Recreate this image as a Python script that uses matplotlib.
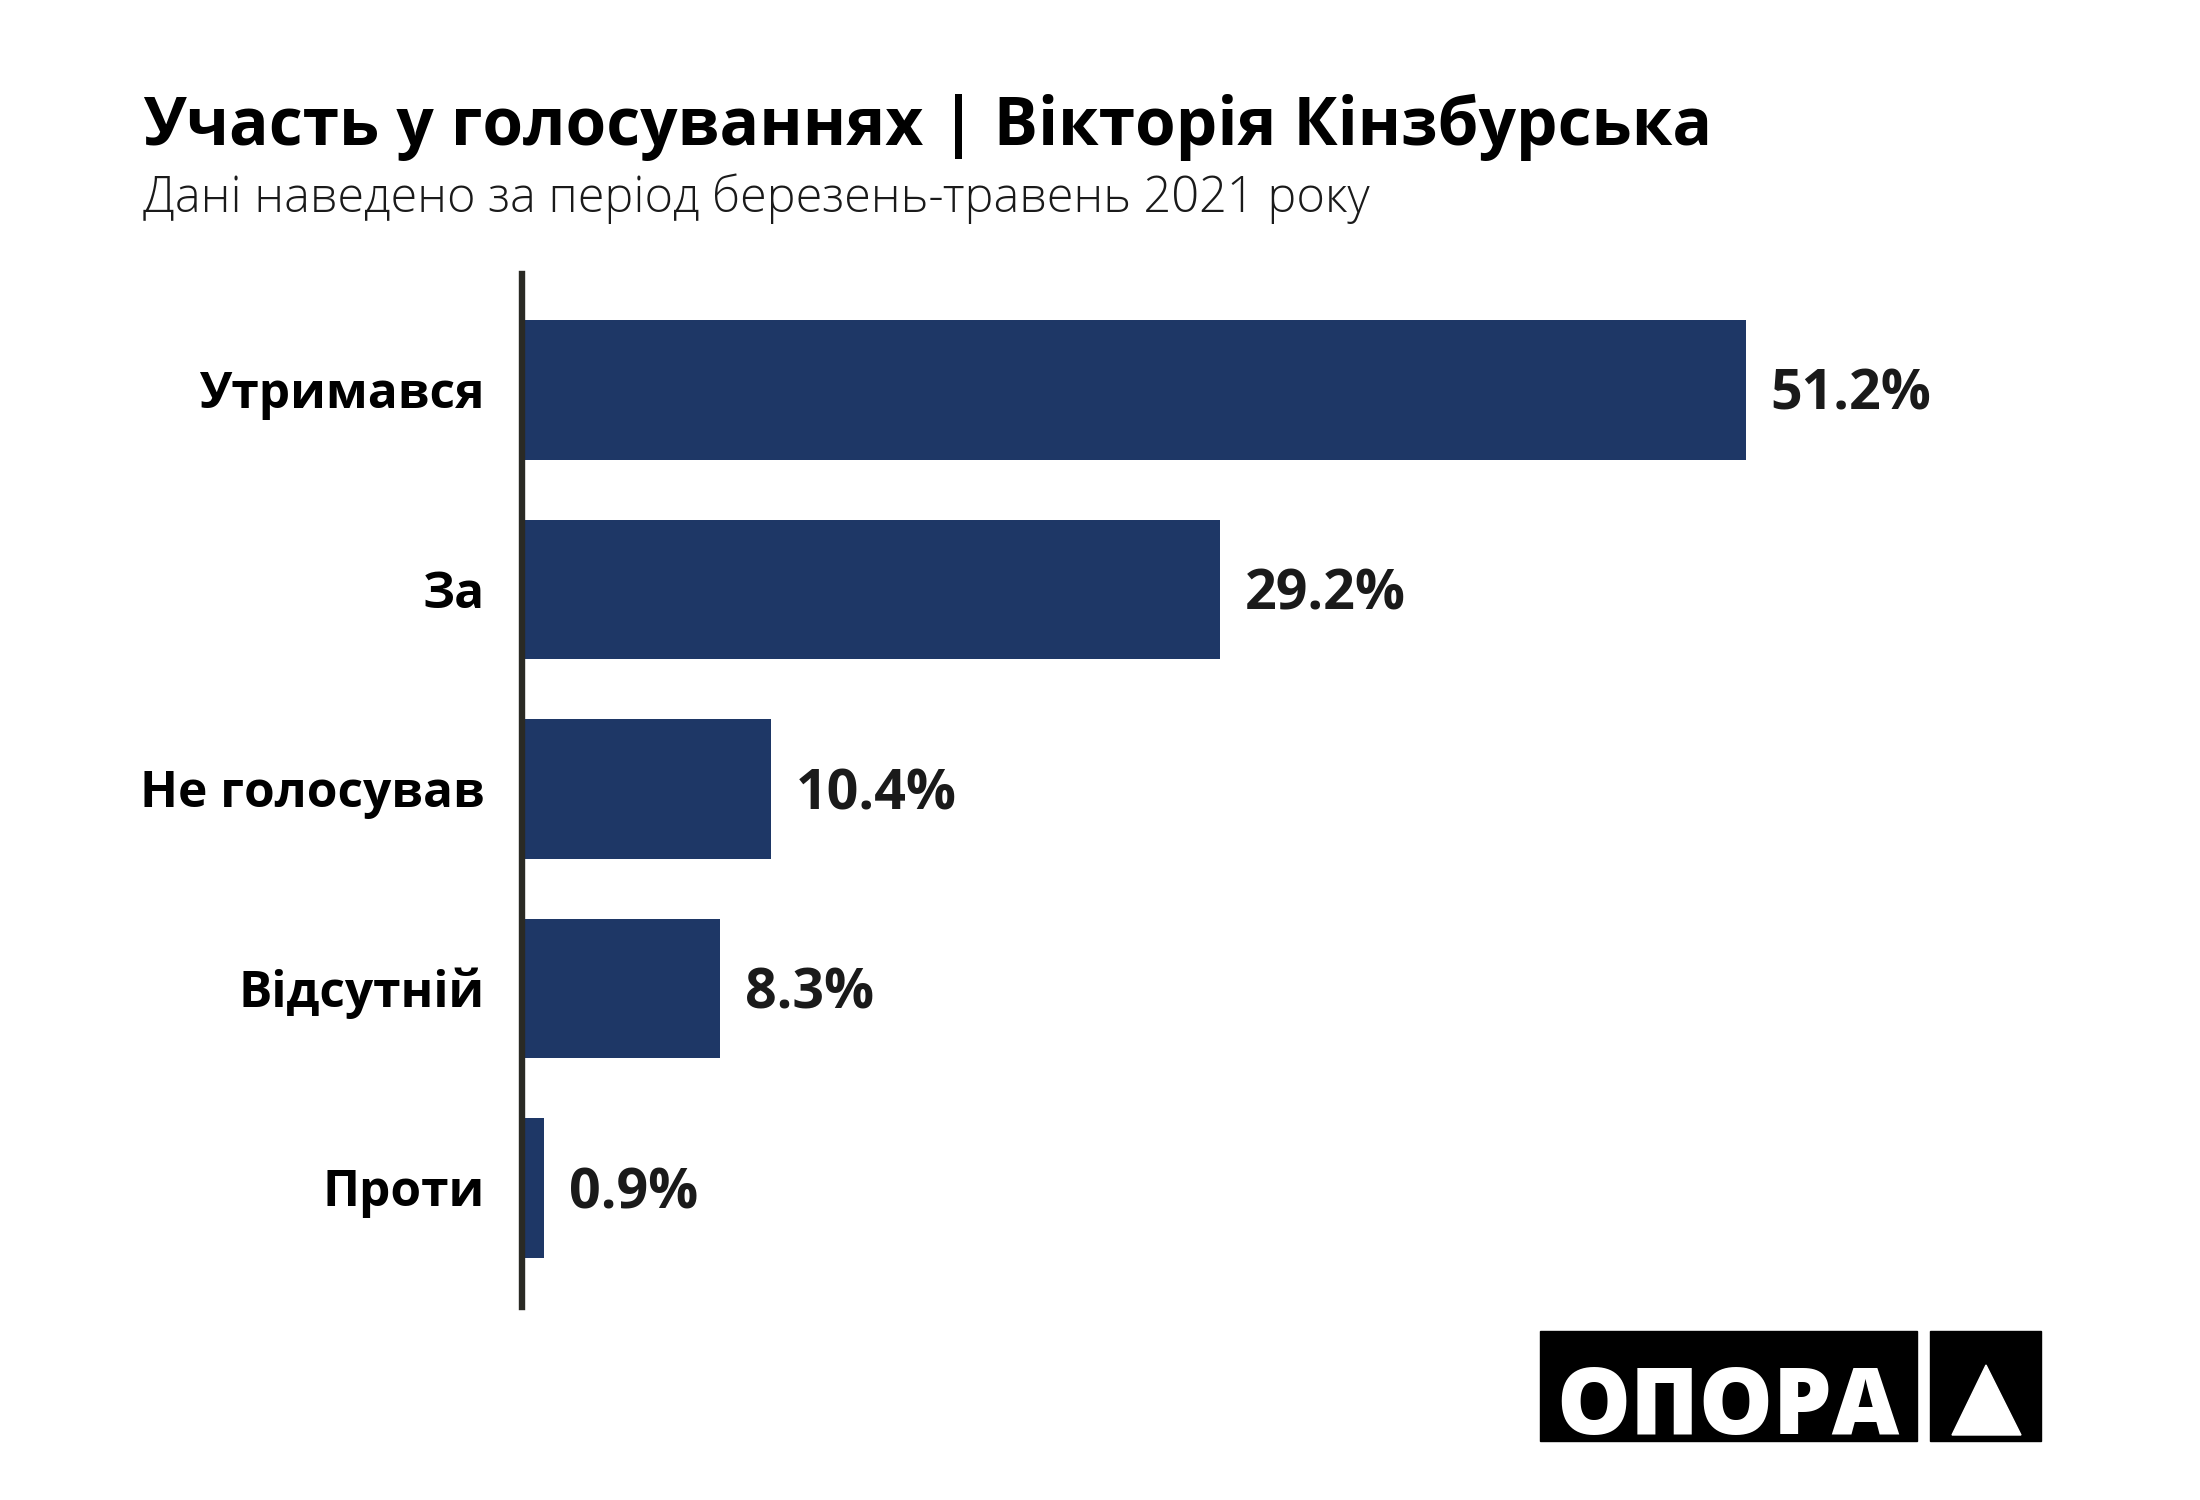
import matplotlib
matplotlib.use("Agg")
import matplotlib.pyplot as plt
from matplotlib.patches import Rectangle, Polygon

categories = ["Утримався", "За", "Не голосував", "Відсутній", "Проти"]
values = [51.2, 29.2, 10.4, 8.3, 0.9]
value_labels = ["51.2%", "29.2%", "10.4%", "8.3%", "0.9%"]

title = "Участь у голосуваннях | Вікторія Кінзбурська"
subtitle = "Дані наведено за період березень-травень 2021 року"
logo_text = "ОПОРА"

BAR = "#1e3766"
AXIS = "#2a2a24"
FONT = ["Open Sans", "DejaVu Sans"]

W, H = 2200, 1500
fig = plt.figure(figsize=(22, 15), dpi=100)
fig.patch.set_facecolor("white")

ax = fig.add_axes([522 / W, 1 - 1307 / H, (1956 - 522) / W, (1307 - 274) / H])
ypos = list(range(len(categories)))
ax.barh(ypos, values, height=0.70, color=BAR, zorder=2)
ax.set_xlim(0, (1956 - 522) / 23.9)
ax.set_ylim(4.596, -0.581)
for s in ["top", "right", "bottom"]:
    ax.spines[s].set_visible(False)
ax.spines["left"].set_linewidth(4.6)
ax.spines["left"].set_color(AXIS)
ax.spines["left"].set_zorder(3)
ax.set_xticks([])
ax.set_yticks([])

for y, cat, v, lab in zip(ypos, categories, values, value_labels):
    ax.annotate(cat, xy=(0, y), xytext=(-27, -13.0), textcoords="offset points",
                ha="right", va="baseline", fontsize=35.7, fontweight="bold",
                color="#000000", family=FONT)
    ax.annotate(lab, xy=(v, y), xytext=(18, -14.4), textcoords="offset points",
                ha="left", va="baseline", fontsize=40, fontweight="bold",
                color="#1a1a1a", family=FONT)

fig.text(143 / W, 1 - 145 / H, title, fontsize=47.3, fontweight="bold",
         color="#000000", family=FONT, ha="left", va="baseline")
fig.text(143 / W, 1 - 212 / H, subtitle, fontsize=35, fontweight="light",
         color="#1a1a1a", family=FONT, ha="left", va="baseline")

# logo
fig.patches.append(Rectangle((1540 / W, 1 - 1441 / H), (1917 - 1540) / W, 110 / H,
                             transform=fig.transFigure, color="black", zorder=1))
fig.patches.append(Rectangle((1930 / W, 1 - 1441 / H), (2041 - 1930) / W, 110 / H,
                             transform=fig.transFigure, color="black", zorder=1))
fig.patches.append(Polygon([(1952 / W, 1 - 1435 / H), (2021 / W, 1 - 1435 / H),
                            (1986 / W, 1 - 1365 / H)], closed=True,
                           transform=fig.transFigure, color="white", zorder=2))
fig.text(1728 / W, 1 - 1434 / H, logo_text, fontsize=67, fontweight="heavy",
         color="white", family=FONT, ha="center", va="baseline", zorder=3)

fig.savefig("out.png", dpi=100, facecolor="white")
